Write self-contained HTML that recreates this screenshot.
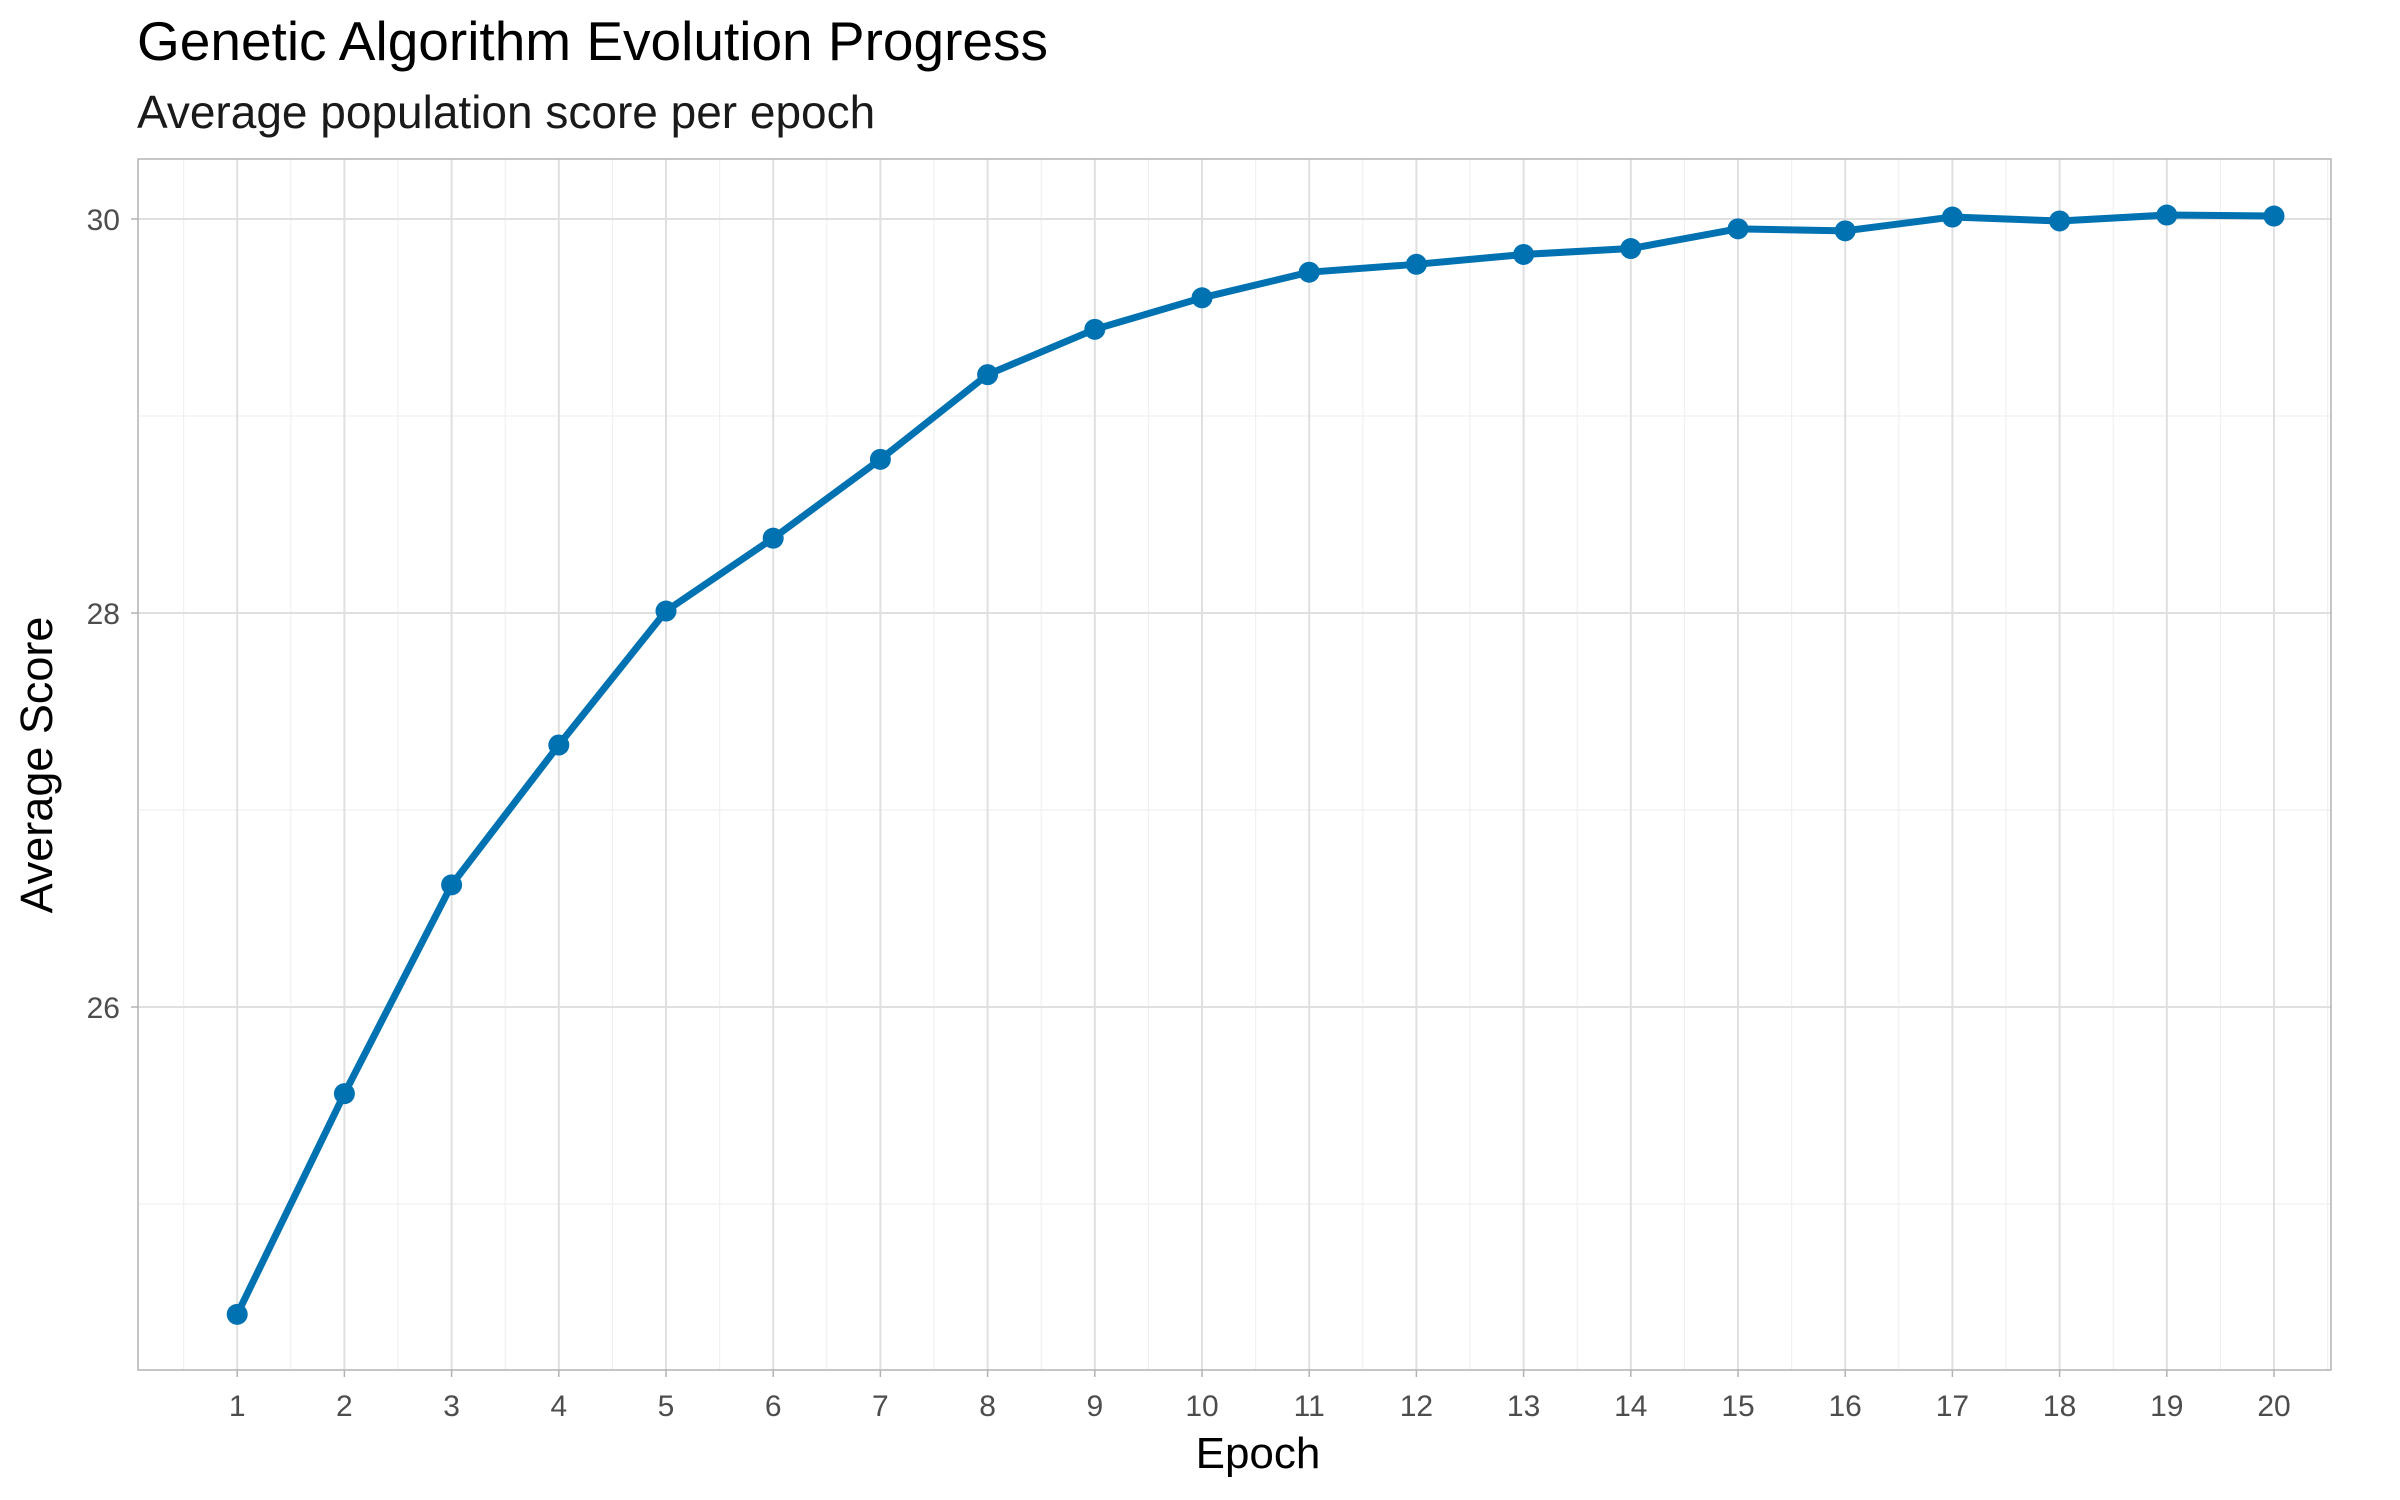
<!DOCTYPE html>
<html><head><meta charset="utf-8"><style>
html,body{margin:0;padding:0;background:#fff;}
svg{display:block;font-family:"Liberation Sans",Arial,sans-serif;}
</style></head><body>
<svg id="chart" width="2400" height="1500" viewBox="0 0 2400 1500">
<text x="137" y="60" font-size="55" fill="#000">Genetic Algorithm Evolution Progress</text>
<text x="137" y="128" font-size="46" fill="#1a1a1a">Average population score per epoch</text>
<g id="grid"></g>
<rect x="138" y="159" width="2193" height="1211" fill="none" stroke="#b3b3b3" stroke-width="1.5"/>
<g id="yticks"></g>
<g id="xticks"></g>
<g id="series"></g>
<text x="1258" y="1468" font-size="44" text-anchor="middle" fill="#000">Epoch</text>
<text transform="translate(52,765) rotate(-90)" font-size="45" text-anchor="middle" fill="#000">Average Score</text>
</svg>
<script>
const epochs = [1,2,3,4,5,6,7,8,9,10,11,12,13,14,15,16,17,18,19,20];
const scores = [24.44,25.56,26.62,27.33,28.01,28.38,28.78,29.21,29.44,29.60,29.73,29.77,29.82,29.85,29.95,29.94,30.01,29.99,30.02,30.015];
const yTicks = [26,28,30];
const yMinor = [25,27,29];
const NS = "http://www.w3.org/2000/svg";
const L=138,R=2331,T=159,B=1370;
const xS = e => 237.2 + (e-1)*107.2;
const yS = v => 219 + (30-v)*197;
function mk(tag, attrs, parent){const el=document.createElementNS(NS,tag);for(const k in attrs)el.setAttribute(k,attrs[k]);parent.appendChild(el);return el;}
const grid=document.getElementById('grid');
yMinor.forEach(v=>{const l=mk('line',{x1:L,x2:R,y1:yS(v),y2:yS(v),stroke:'#f0f0f0','stroke-width':1.2},grid);

});
for(let e=0.5;e<=20.5;e+=1){const l=mk('line',{x1:xS(e),x2:xS(e),y1:T,y2:B,stroke:'#f0f0f0','stroke-width':1.2},grid);

}
yTicks.forEach(v=>{const l=mk('line',{x1:L,x2:R,y1:yS(v),y2:yS(v),stroke:'#e0e0e0','stroke-width':2},grid);

});
epochs.forEach(e=>{const l=mk('line',{x1:xS(e),x2:xS(e),y1:T,y2:B,stroke:'#e0e0e0','stroke-width':2},grid);

});
const yt=document.getElementById('yticks');
yTicks.forEach(v=>{const t=mk('text',{x:120,y:yS(v)+11,'font-size':30,'text-anchor':'end',fill:'#4d4d4d'},yt);t.textContent=v;


const k=mk('line',{x1:131,x2:L,y1:yS(v),y2:yS(v),stroke:'#b3b3b3','stroke-width':1.5},yt);

});
const xt=document.getElementById('xticks');
epochs.forEach(e=>{const t=mk('text',{x:xS(e),y:1416,'font-size':30,'text-anchor':'middle',fill:'#4d4d4d'},xt);t.textContent=e;


const k=mk('line',{x1:xS(e),x2:xS(e),y1:B,y2:B+7,stroke:'#b3b3b3','stroke-width':1.5},xt);

});
const s=document.getElementById('series');
const pts=epochs.map((e,i)=>xS(e)+','+yS(scores[i])).join(' ');
const pl=mk('polyline',{points:pts,fill:'none',stroke:'#0072B2','stroke-width':7,'stroke-linejoin':'round'},s);


epochs.forEach((e,i)=>{const c=mk('circle',{cx:xS(e),cy:yS(scores[i]),r:10.5,fill:'#0072B2'},s);

});
</script>
</body></html>
